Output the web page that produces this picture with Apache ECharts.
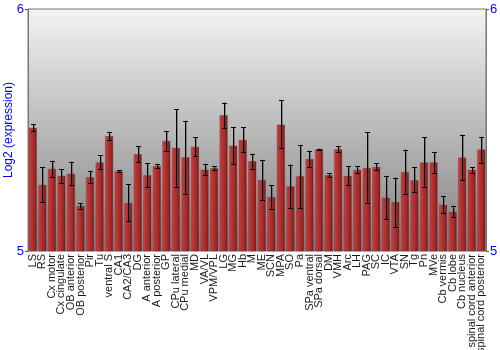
<!DOCTYPE html>
<html><head><meta charset="utf-8">
<script src="https://cdn.jsdelivr.net/npm/echarts@6/dist/echarts.min.js"></script>
<style>html,body{margin:0;padding:0;background:#fff}#c{width:500px;height:350px}</style>
</head><body><div id="c"></div>
<script>
const categories = ["LS","RS","Cx motor","Cx cingulate","OB anterior","OB posterior","Pir","Tu","ventral S","CA1","CA2/CA3","DG","A anterior","A posterior","GP","CPu lateral","CPu medial","MD","VA/VL","VPM/VPL","LG","MG","Hb","M","ME","SCN","MPA","SO","Pa","SPa ventral","SPa dorsal","DM","VMH","Arc","LH","PAG","SC","IC","VTA","SN","Tg","Pn","MVe","Cb vermis","Cb lobe","Cb nucleus","spinal cord anterior","spinal cord posterior"];
const values = [5.509,5.273,5.339,5.310,5.319,5.186,5.305,5.366,5.475,5.329,5.198,5.400,5.313,5.351,5.455,5.426,5.387,5.430,5.336,5.342,5.561,5.435,5.459,5.371,5.293,5.223,5.522,5.267,5.309,5.380,5.420,5.313,5.420,5.310,5.335,5.343,5.347,5.220,5.202,5.326,5.292,5.366,5.366,5.191,5.162,5.386,5.335,5.419];
const errHigh = [5.525,5.346,5.373,5.339,5.369,5.197,5.332,5.395,5.493,5.333,5.276,5.433,5.362,5.361,5.496,5.586,5.538,5.470,5.361,5.350,5.613,5.511,5.511,5.402,5.377,5.271,5.623,5.357,5.439,5.414,5.423,5.321,5.433,5.350,5.350,5.490,5.362,5.310,5.303,5.419,5.346,5.470,5.410,5.227,5.187,5.481,5.346,5.472];
const errLow = [5.495,5.201,5.307,5.280,5.271,5.175,5.280,5.338,5.457,5.325,5.123,5.367,5.263,5.344,5.414,5.266,5.237,5.391,5.314,5.333,5.507,5.358,5.408,5.340,5.210,5.175,5.424,5.176,5.176,5.348,5.417,5.305,5.408,5.271,5.324,5.200,5.333,5.132,5.100,5.236,5.243,5.266,5.324,5.156,5.139,5.292,5.324,5.365];
const yTicks = [5, 6];

const chart = echarts.init(document.getElementById('c'), null, {renderer:'canvas'});
const blue = '#0000ff';
const yAxisBase = {
  type:'value', min:yTicks[0], max:yTicks[1], interval:1,
  axisLine:{show:true, lineStyle:{color:'#777', width:1}},
  axisTick:{show:true, length:3, lineStyle:{color:'#555'}},
  splitLine:{show:false},
  axisLabel:{color:blue, fontSize:13, fontFamily:'Liberation Sans, Arial', margin:4}
};
const errData = categories.map((c,i)=>[i, errLow[i], errHigh[i]]);
chart.setOption({
  animation:false,
  grid:{left:28, right:14, top:9, bottom:99, containLabel:false, outerBoundsMode:'none', show:true, borderWidth:1, borderColor:'#777',
    backgroundColor: new echarts.graphic.LinearGradient(0,0,0,1,[{offset:0,color:'#f3f3f3'},{offset:1,color:'#808080'}])},
  xAxis:{type:'category', data:categories,
    axisLine:{show:false}, axisTick:{show:false},
    axisLabel:{rotate:90, interval:0, fontSize:11, color:'#1a1a1a', fontFamily:'Liberation Sans, Arial', margin:3}},
  yAxis:[
    Object.assign({}, yAxisBase, {position:'left', name:'Log2 (expression)', nameLocation:'middle', nameGap:13, nameMoveOverlap:false,
      nameTextStyle:{color:blue, fontSize:12, fontFamily:'Liberation Sans, Arial'}}),
    Object.assign({}, yAxisBase, {position:'right'})
  ],
  series:[
    {type:'bar', data:values, barWidth:8,
      itemStyle:{color:new echarts.graphic.LinearGradient(0,0,1,0,[
        {offset:0,color:'#c44848'},{offset:0.25,color:'#bb3636'},{offset:0.7,color:'#a02828'},{offset:1,color:'#7a1a1a'}]),
        borderColor:'rgba(110,30,30,0.6)', borderWidth:0.5}},
    {type:'custom', data:errData, z:10,
      renderItem:function(params, api){
        const x = api.value(0);
        const lo = api.coord([x, api.value(1)]);
        const hi = api.coord([x, api.value(2)]);
        const cx = Math.round(lo[0]) + 0.5;
        const w = 2.5;
        const st = {stroke:'#000', lineWidth:1};
        const sh = {stroke:'rgba(60,60,60,0.45)', lineWidth:1};
        return {type:'group', children:[
          {type:'line', shape:{x1:cx+1,y1:hi[1]+1,x2:cx+1,y2:lo[1]+1}, style:sh},
          {type:'line', shape:{x1:cx,y1:hi[1],x2:cx,y2:lo[1]}, style:st},
          {type:'line', shape:{x1:cx-w,y1:Math.round(hi[1])+0.5,x2:cx+w,y2:Math.round(hi[1])+0.5}, style:st},
          {type:'line', shape:{x1:cx-w,y1:Math.round(lo[1])+0.5,x2:cx+w,y2:Math.round(lo[1])+0.5}, style:st}
        ]};
      }}
  ]
});
</script></body></html>
